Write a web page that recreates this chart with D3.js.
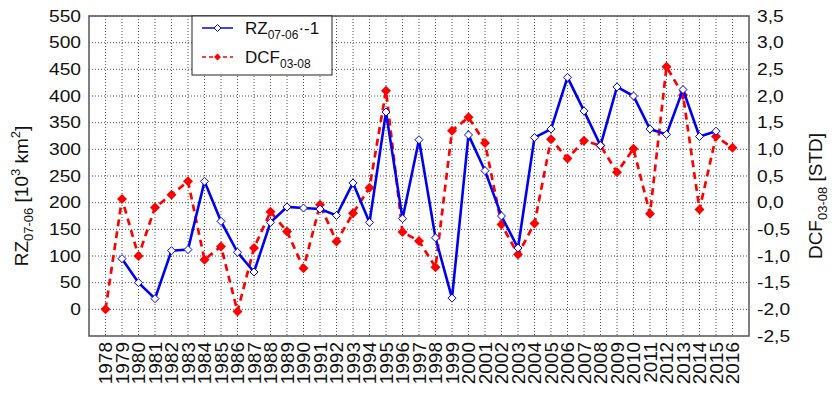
<!DOCTYPE html>
<html><head><meta charset="utf-8">
<script src="https://cdn.jsdelivr.net/npm/d3@7"></script>
<style>body{margin:0;background:#fff}svg{display:block}</style>
</head><body>
<svg id="c" width="834" height="396"></svg>
<script>
const years = [1978,1979,1980,1981,1982,1983,1984,1985,1986,1987,1988,1989,1990,1991,1992,1993,1994,1995,1996,1997,1998,1999,2000,2001,2002,2003,2004,2005,2006,2007,2008,2009,2010,2011,2012,2013,2014,2015,2016];
const rzYears = [1979,1980,1981,1982,1983,1984,1985,1986,1987,1988,1989,1990,1991,1992,1993,1994,1995,1996,1997,1998,1999,2000,2001,2002,2003,2004,2005,2006,2007,2008,2009,2010,2011,2012,2013,2014,2015];
const rzValues = [95,50,20,110,112,240,165,107,70,163,192,190,188,176,237,163,370,170,318,134,21,327,260,175,115,322,338,435,372,307,417,400,338,328,412,324,334];
const dcfYears = years;
const dcfValues = [-2.0,0.07,-1.0,-0.09,0.15,0.40,-1.07,-0.82,-2.04,-0.85,-0.17,-0.54,-1.23,-0.04,-0.73,-0.2,0.28,2.1,-0.55,-0.72,-1.21,1.35,1.6,1.12,-0.41,-0.97,-0.39,1.19,0.83,1.16,1.07,0.57,1.01,-0.21,2.55,2.02,-0.13,1.24,1.03];
const leftTicks = [0,50,100,150,200,250,300,350,400,450,500,550];
const rightTicks = [-2.5,-2.0,-1.5,-1.0,-0.5,0.0,0.5,1.0,1.5,2.0,2.5,3.0,3.5];

const L = 89, R = 749, T = 16, B = 336;
const blue = "#0000f0", red = "#ff0000";
const FONT = "Liberation Sans, Arial, sans-serif";

const svg = d3.select("#c");
const x = d3.scaleLinear().domain([1977, 2017]).range([L, R]);
const yL = d3.scaleLinear().domain([-50, 550]).range([B, T]);
const yR = d3.scaleLinear().domain([-2.5, 3.5]).range([B, T]);

// grid
const g = svg.append("g");
g.selectAll("line.v").data(years).join("line")
  .attr("x1", d => x(d)).attr("x2", d => x(d)).attr("y1", T).attr("y2", B)
  .attr("stroke", "#555").attr("stroke-width", 1).attr("stroke-dasharray", "1,2");
g.selectAll("line.h").data(leftTicks).join("line")
  .attr("x1", L).attr("x2", R).attr("y1", d => yL(d)).attr("y2", d => yL(d))
  .attr("stroke", "#555").attr("stroke-width", 1).attr("stroke-dasharray", "1,2");

// frame
svg.append("rect").attr("x", L).attr("y", T).attr("width", R - L).attr("height", B - T)
  .attr("fill", "none").attr("stroke", "#555").attr("stroke-width", 1.5);

// tick labels
const fmtR = d => d3.format(".1f")(d).replace(".", ",").replace("−", "-");
svg.append("g").selectAll("text").data(leftTicks).join("text")
  .attr("transform", d => `translate(81,${yL(d)}) scale(1.2,1)`).attr("dy", "0.36em")
  .attr("text-anchor", "end").attr("font-family", FONT).attr("font-size", 16)
  .attr("fill", "#111").text(d => d);
svg.append("g").selectAll("text").data(rightTicks).join("text")
  .attr("transform", d => `translate(757,${yR(d)}) scale(1.2,1)`).attr("dy", "0.36em")
  .attr("text-anchor", "start").attr("font-family", FONT).attr("font-size", 16)
  .attr("fill", "#111").text(d => fmtR(d));
svg.append("g").selectAll("text").data(years).join("text")
  .attr("transform", d => `translate(${x(d)},342) rotate(-90)`)
  .attr("dy", "0.36em").attr("text-anchor", "end")
  .attr("font-family", FONT).attr("font-size", 19).attr("fill", "#111")
  .text(d => d);

// axis titles
const lt = svg.append("text").attr("transform", "translate(28,196) rotate(-90)")
  .attr("text-anchor", "middle").attr("font-family", FONT).attr("font-size", 19).attr("fill", "#111");
lt.append("tspan").text("RZ");
lt.append("tspan").attr("font-size", 13).attr("dy", 5).text("07-06");
lt.append("tspan").attr("dy", -5).text(" [10");
lt.append("tspan").attr("font-size", 13).attr("dy", -8).text("3");
lt.append("tspan").attr("dy", 8).text(" km");
lt.append("tspan").attr("font-size", 13).attr("dy", -8).text("2");
lt.append("tspan").attr("dy", 8).text("]");

const rt = svg.append("text").attr("transform", "translate(822,196) rotate(-90)")
  .attr("text-anchor", "middle").attr("font-family", FONT).attr("font-size", 19).attr("fill", "#111");
rt.append("tspan").text("DCF");
rt.append("tspan").attr("font-size", 13).attr("dy", 5).text("03-08");
rt.append("tspan").attr("dy", -5).text(" [STD]");

// series
const rzData = rzYears.map((yr, i) => ({yr, v: rzValues[i]}));
const dcfData = dcfYears.map((yr, i) => ({yr, v: dcfValues[i]}));
const diamond = (cx, cy, r) => `M${cx},${cy - r}L${cx + r},${cy}L${cx},${cy + r}L${cx - r},${cy}Z`;

svg.append("path").datum(dcfData)
  .attr("d", d3.line().x(d => x(d.yr)).y(d => yR(d.v)))
  .attr("fill", "none").attr("stroke", red).attr("stroke-width", 2.7).attr("stroke-dasharray", "7,5");
svg.append("g").selectAll("path").data(dcfData).join("path")
  .attr("d", d => diamond(x(d.yr), yR(d.v), 5)).attr("fill", red);

svg.append("path").datum(rzData)
  .attr("d", d3.line().x(d => x(d.yr)).y(d => yL(d.v)))
  .attr("fill", "none").attr("stroke", blue).attr("stroke-width", 2.6);
svg.append("g").selectAll("path").data(rzData).join("path")
  .attr("d", d => diamond(x(d.yr), yL(d.v), 4)).attr("fill", "#fff").attr("stroke", blue).attr("stroke-width", 1);

// legend
const lg = svg.append("g");
lg.append("rect").attr("x", 192).attr("y", T).attr("width", 140).attr("height", 59)
  .attr("fill", "#fff").attr("stroke", "#222").attr("stroke-width", 1);
lg.append("line").attr("x1", 202).attr("x2", 233).attr("y1", 28).attr("y2", 28)
  .attr("stroke", blue).attr("stroke-width", 1.5);
lg.append("path").attr("d", diamond(217.5, 28, 3.5)).attr("fill", "#fff").attr("stroke", blue);
lg.append("line").attr("x1", 202).attr("x2", 233).attr("y1", 57).attr("y2", 57)
  .attr("stroke", red).attr("stroke-width", 1.5).attr("stroke-dasharray", "4,3");
lg.append("path").attr("d", diamond(217.5, 57, 3.5)).attr("fill", red);
const t1 = lg.append("text").attr("x", 245).attr("y", 34).attr("font-family", FONT).attr("font-size", 17).attr("fill", "#111");
t1.append("tspan").text("RZ");
t1.append("tspan").attr("font-size", 12).attr("dy", 5).text("07-06");
t1.append("tspan").attr("dy", -5).text("·-1");
const t2 = lg.append("text").attr("x", 245).attr("y", 63).attr("font-family", FONT).attr("font-size", 17).attr("fill", "#111");
t2.append("tspan").text("DCF");
t2.append("tspan").attr("font-size", 12).attr("dy", 5).text("03-08");
</script>
</body></html>
